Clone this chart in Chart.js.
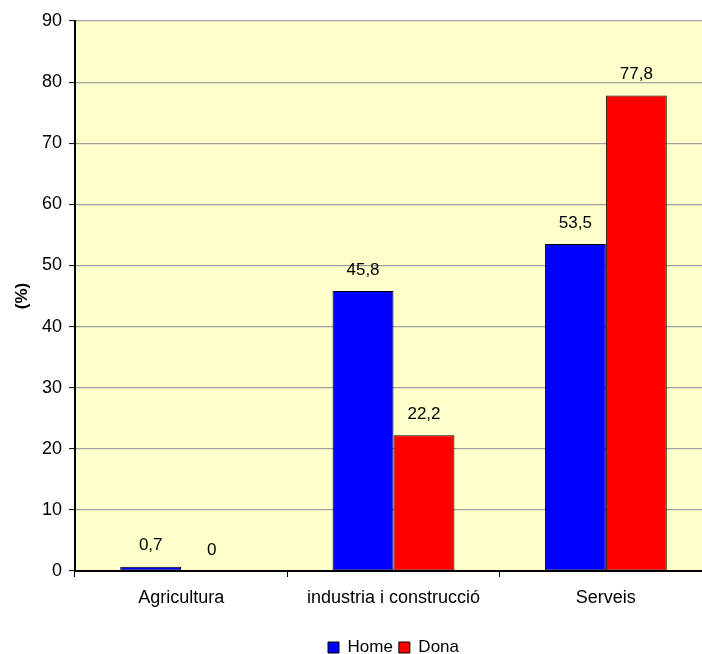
<!DOCTYPE html>
<html>
<head>
<meta charset="utf-8">
<script src="https://cdn.jsdelivr.net/npm/chart.js@4"></script>
<style>
  html, body { margin: 0; padding: 0; background: #fff; overflow: hidden; }
  #wrap { width: 712px; height: 666px; position: relative; }
</style>
</head>
<body>
<div id="wrap"><canvas id="c"></canvas></div>
<script>
const categories = ['Agricultura', 'industria i construcció', 'Serveis'];
const seriesNames = ['Home', 'Dona'];
const homeValues = [0.7, 45.8, 53.5];
const donaValues = [0, 22.2, 77.8];
const yTicksMax = 90;
const yTicksStep = 10;

const FONT = "'Liberation Sans', Arial, sans-serif";

const bgPlugin = {
  id: 'plotBg',
  beforeDraw(chart) {
    const a = chart.chartArea;
    const ctx = chart.ctx;
    ctx.save();
    ctx.fillStyle = '#FFFFCC';
    ctx.fillRect(a.left, a.top, a.right - a.left, a.bottom - a.top);
    ctx.restore();
  }
};

const labelPlugin = {
  id: 'valueLabels',
  afterDatasetsDraw(chart) {
    const ctx = chart.ctx;
    ctx.save();
    ctx.font = '17px ' + FONT;
    ctx.fillStyle = '#000';
    ctx.textAlign = 'center';
    ctx.textBaseline = 'middle';
    chart.data.datasets.forEach((ds, i) => {
      const meta = chart.getDatasetMeta(i);
      meta.data.forEach((el, j) => {
        const v = ds.data[j];
        const txt = String(v).replace('.', ',');
        ctx.fillText(txt, el.x, el.y - 21);
      });
    });
    ctx.restore();
  }
};

new Chart(document.getElementById('c'), {
  type: 'bar',
  data: {
    labels: categories,
    datasets: [
      { label: seriesNames[0], data: homeValues, backgroundColor: '#0000FF', borderColor: '#000', borderWidth: 1, borderSkipped: false },
      { label: seriesNames[1], data: donaValues, backgroundColor: '#FF0000', borderColor: '#000', borderWidth: 1, borderSkipped: false }
    ]
  },
  options: {
    responsive: true,
    maintainAspectRatio: false,
    animation: false,
    devicePixelRatio: 1,
    layout: { padding: { top: 21, right: 0, bottom: 0, left: 0 } },
    datasets: { bar: { categoryPercentage: 0.574, barPercentage: 1 } },
    plugins: {
      legend: {
        position: 'bottom',
        fullSize: false,
        labels: {
          font: { family: FONT, size: 17 },
          color: '#000',
          boxWidth: 11,
          boxHeight: 11,
          padding: 6
        }
      },
      tooltip: { enabled: false }
    },
    scales: {
      x: {
        offset: true,
        grid: { display: true, drawOnChartArea: false, offset: true, tickLength: 6, tickColor: '#000', tickWidth: 1 },
        border: { display: true, color: '#000', width: 2 },
        ticks: { font: { family: FONT, size: 18 }, color: '#000', padding: 10, maxRotation: 0 },
        afterFit(scale) { scale.height = 62; }
      },
      y: {
        min: 0,
        max: yTicksMax,
        grid: { color: '#a0a0a0', lineWidth: 1.2, tickLength: 6, tickColor: '#000', tickWidth: 1 },
        border: { display: true, color: '#000', width: 2 },
        ticks: { stepSize: yTicksStep, font: { family: FONT, size: 18 }, color: '#000', padding: 7 },
        title: { display: true, text: '(%)', font: { family: FONT, size: 17, weight: 'bold' }, color: '#000', padding: { top: 12, bottom: 0 } },
        afterFit(scale) { scale.width = 75; }
      }
    }
  },
  plugins: [bgPlugin, labelPlugin]
});
</script>
</body>
</html>
